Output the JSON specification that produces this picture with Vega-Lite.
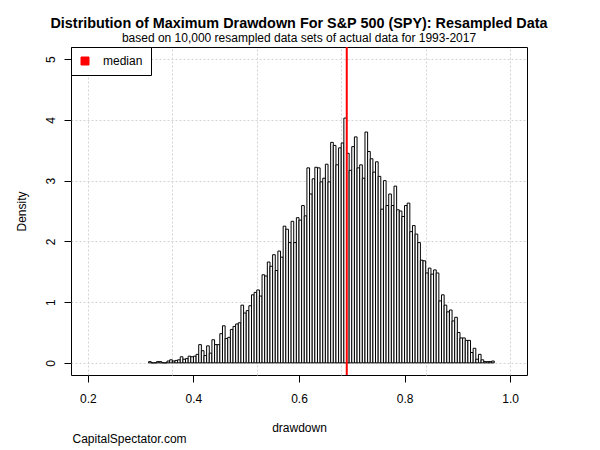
{
  "$schema": "https://vega.github.io/schema/vega-lite/v6.json",
  "width": 456,
  "height": 328,
  "autosize": {"type": "none"},
  "padding": {"left": 71, "top": 47, "right": 73, "bottom": 75},
  "background": "white",
  "title": {
    "text": "Distribution of Maximum Drawdown For S&P 500 (SPY): Resampled Data",
    "subtitle": "based on 10,000 resampled data sets of actual data for 1993-2017",
    "font": "Liberation Sans",
    "fontSize": 14.4,
    "fontWeight": "bold",
    "color": "black",
    "subtitleFont": "Liberation Sans",
    "subtitleFontSize": 12,
    "subtitleColor": "black",
    "anchor": "middle",
    "frame": "group",
    "offset": 1,
    "subtitlePadding": 2
  },
  "config": {
    "view": {"stroke": "black", "strokeWidth": 1},
    "font": "Liberation Sans",
    "axis": {
      "domain": false,
      "tickColor": "black",
      "tickWidth": 1,
      "labelColor": "black",
      "labelFont": "Liberation Sans",
      "labelFontSize": 12,
      "titleFont": "Liberation Sans",
      "titleFontSize": 12,
      "titleFontWeight": "normal",
      "titleColor": "black",
      "gridColor": "#D3D3D3",
      "gridDash": [2, 2],
      "gridWidth": 1,
      "gridOpacity": 1
    }
  },
  "resolve": {"axis": {"x": "independent"}},
  "layer": [
    {
      "data": {
        "values": [
          {"lo": 0.315, "hi": 0.32, "density": 0.02},
          {"lo": 0.32, "hi": 0.325, "density": 0},
          {"lo": 0.325, "hi": 0.33, "density": 0},
          {"lo": 0.33, "hi": 0.335, "density": 0.02},
          {"lo": 0.335, "hi": 0.34, "density": 0.02},
          {"lo": 0.34, "hi": 0.345, "density": 0},
          {"lo": 0.345, "hi": 0.35, "density": 0},
          {"lo": 0.35, "hi": 0.355, "density": 0.03},
          {"lo": 0.355, "hi": 0.36, "density": 0.05},
          {"lo": 0.36, "hi": 0.365, "density": 0.03},
          {"lo": 0.365, "hi": 0.37, "density": 0.04},
          {"lo": 0.37, "hi": 0.375, "density": 0.05},
          {"lo": 0.375, "hi": 0.38, "density": 0.10},
          {"lo": 0.38, "hi": 0.385, "density": 0.06},
          {"lo": 0.385, "hi": 0.39, "density": 0.07},
          {"lo": 0.39, "hi": 0.395, "density": 0.11},
          {"lo": 0.395, "hi": 0.40, "density": 0.10},
          {"lo": 0.40, "hi": 0.405, "density": 0.11},
          {"lo": 0.405, "hi": 0.41, "density": 0.14},
          {"lo": 0.41, "hi": 0.415, "density": 0.30},
          {"lo": 0.415, "hi": 0.42, "density": 0.20},
          {"lo": 0.42, "hi": 0.425, "density": 0.12},
          {"lo": 0.425, "hi": 0.43, "density": 0.28},
          {"lo": 0.43, "hi": 0.435, "density": 0.16},
          {"lo": 0.435, "hi": 0.44, "density": 0.38},
          {"lo": 0.44, "hi": 0.445, "density": 0.30},
          {"lo": 0.445, "hi": 0.45, "density": 0.30},
          {"lo": 0.45, "hi": 0.455, "density": 0.48},
          {"lo": 0.455, "hi": 0.46, "density": 0.61},
          {"lo": 0.46, "hi": 0.465, "density": 0.40},
          {"lo": 0.465, "hi": 0.47, "density": 0.42},
          {"lo": 0.47, "hi": 0.475, "density": 0.55},
          {"lo": 0.475, "hi": 0.48, "density": 0.60},
          {"lo": 0.48, "hi": 0.485, "density": 0.64},
          {"lo": 0.485, "hi": 0.49, "density": 0.66},
          {"lo": 0.49, "hi": 0.495, "density": 0.95},
          {"lo": 0.495, "hi": 0.50, "density": 0.82},
          {"lo": 0.50, "hi": 0.505, "density": 0.86},
          {"lo": 0.505, "hi": 0.51, "density": 0.94},
          {"lo": 0.51, "hi": 0.515, "density": 1.12},
          {"lo": 0.515, "hi": 0.52, "density": 1.16},
          {"lo": 0.52, "hi": 0.525, "density": 1.20},
          {"lo": 0.525, "hi": 0.53, "density": 1.10},
          {"lo": 0.53, "hi": 0.535, "density": 1.45},
          {"lo": 0.535, "hi": 0.54, "density": 1.43},
          {"lo": 0.54, "hi": 0.545, "density": 1.66},
          {"lo": 0.545, "hi": 0.55, "density": 1.59},
          {"lo": 0.55, "hi": 0.555, "density": 1.78},
          {"lo": 0.555, "hi": 0.56, "density": 1.52},
          {"lo": 0.56, "hi": 0.565, "density": 1.84},
          {"lo": 0.565, "hi": 0.57, "density": 1.74},
          {"lo": 0.57, "hi": 0.575, "density": 2.25},
          {"lo": 0.575, "hi": 0.58, "density": 2.20},
          {"lo": 0.58, "hi": 0.585, "density": 1.98},
          {"lo": 0.585, "hi": 0.59, "density": 2.33},
          {"lo": 0.59, "hi": 0.595, "density": 1.98},
          {"lo": 0.595, "hi": 0.60, "density": 2.39},
          {"lo": 0.60, "hi": 0.605, "density": 2.35},
          {"lo": 0.605, "hi": 0.61, "density": 2.59},
          {"lo": 0.61, "hi": 0.615, "density": 2.42},
          {"lo": 0.615, "hi": 0.62, "density": 3.21},
          {"lo": 0.62, "hi": 0.625, "density": 2.78},
          {"lo": 0.625, "hi": 0.63, "density": 3.03},
          {"lo": 0.63, "hi": 0.635, "density": 3.22},
          {"lo": 0.635, "hi": 0.64, "density": 3.21},
          {"lo": 0.64, "hi": 0.645, "density": 2.98},
          {"lo": 0.645, "hi": 0.65, "density": 3.04},
          {"lo": 0.65, "hi": 0.655, "density": 3.27},
          {"lo": 0.655, "hi": 0.66, "density": 2.98},
          {"lo": 0.66, "hi": 0.665, "density": 3.63},
          {"lo": 0.665, "hi": 0.67, "density": 3.58},
          {"lo": 0.67, "hi": 0.675, "density": 3.26},
          {"lo": 0.675, "hi": 0.68, "density": 3.54},
          {"lo": 0.68, "hi": 0.685, "density": 3.62},
          {"lo": 0.685, "hi": 0.69, "density": 4.03},
          {"lo": 0.69, "hi": 0.695, "density": 3.45},
          {"lo": 0.695, "hi": 0.70, "density": 3.17},
          {"lo": 0.70, "hi": 0.705, "density": 3.56},
          {"lo": 0.705, "hi": 0.71, "density": 3.72},
          {"lo": 0.71, "hi": 0.715, "density": 3.21},
          {"lo": 0.715, "hi": 0.72, "density": 3.26},
          {"lo": 0.72, "hi": 0.725, "density": 3.04},
          {"lo": 0.725, "hi": 0.73, "density": 3.80},
          {"lo": 0.73, "hi": 0.735, "density": 3.48},
          {"lo": 0.735, "hi": 0.74, "density": 3.36},
          {"lo": 0.74, "hi": 0.745, "density": 3.14},
          {"lo": 0.745, "hi": 0.75, "density": 3.31},
          {"lo": 0.75, "hi": 0.755, "density": 3.07},
          {"lo": 0.755, "hi": 0.76, "density": 2.53},
          {"lo": 0.76, "hi": 0.765, "density": 3.00},
          {"lo": 0.765, "hi": 0.77, "density": 2.59},
          {"lo": 0.77, "hi": 0.775, "density": 2.78},
          {"lo": 0.775, "hi": 0.78, "density": 2.59},
          {"lo": 0.78, "hi": 0.785, "density": 2.91},
          {"lo": 0.785, "hi": 0.79, "density": 2.52},
          {"lo": 0.79, "hi": 0.795, "density": 2.50},
          {"lo": 0.795, "hi": 0.80, "density": 2.41},
          {"lo": 0.80, "hi": 0.805, "density": 2.59},
          {"lo": 0.805, "hi": 0.81, "density": 2.63},
          {"lo": 0.81, "hi": 0.815, "density": 2.16},
          {"lo": 0.815, "hi": 0.82, "density": 2.26},
          {"lo": 0.82, "hi": 0.825, "density": 2.12},
          {"lo": 0.825, "hi": 0.83, "density": 1.98},
          {"lo": 0.83, "hi": 0.835, "density": 1.69},
          {"lo": 0.835, "hi": 0.84, "density": 1.68},
          {"lo": 0.84, "hi": 0.845, "density": 1.48},
          {"lo": 0.845, "hi": 0.85, "density": 1.56},
          {"lo": 0.85, "hi": 0.855, "density": 1.46},
          {"lo": 0.855, "hi": 0.86, "density": 1.53},
          {"lo": 0.86, "hi": 0.865, "density": 1.48},
          {"lo": 0.865, "hi": 0.87, "density": 1.02},
          {"lo": 0.87, "hi": 0.875, "density": 1.12},
          {"lo": 0.875, "hi": 0.88, "density": 0.95},
          {"lo": 0.88, "hi": 0.885, "density": 0.84},
          {"lo": 0.885, "hi": 0.89, "density": 0.87},
          {"lo": 0.89, "hi": 0.895, "density": 0.69},
          {"lo": 0.895, "hi": 0.90, "density": 0.75},
          {"lo": 0.90, "hi": 0.905, "density": 0.50},
          {"lo": 0.905, "hi": 0.91, "density": 0.41},
          {"lo": 0.91, "hi": 0.915, "density": 0.41},
          {"lo": 0.915, "hi": 0.92, "density": 0.37},
          {"lo": 0.92, "hi": 0.925, "density": 0.37},
          {"lo": 0.925, "hi": 0.93, "density": 0.17},
          {"lo": 0.93, "hi": 0.935, "density": 0.24},
          {"lo": 0.935, "hi": 0.94, "density": 0.06},
          {"lo": 0.94, "hi": 0.945, "density": 0.14},
          {"lo": 0.945, "hi": 0.95, "density": 0.05},
          {"lo": 0.95, "hi": 0.955, "density": 0.02},
          {"lo": 0.955, "hi": 0.96, "density": 0.02},
          {"lo": 0.96, "hi": 0.965, "density": 0.02},
          {"lo": 0.965, "hi": 0.97, "density": 0.03}
        ]
      },
      "mark": {"type": "bar", "fill": "white", "stroke": "black", "strokeWidth": 1},
      "encoding": {
        "x": {
          "field": "lo",
          "type": "quantitative",
          "scale": {"domain": [0.168, 1.032], "nice": false, "zero": false},
          "axis": {
            "orient": "bottom",
            "values": [0.2, 0.4, 0.6, 0.8, 1.0],
            "format": ".1f",
            "grid": false,
            "tickSize": 7,
            "labelPadding": 11,
            "labelBaseline": "top",
            "labelFlush": false,
            "labelOverlap": false,
            "title": "drawdown",
            "titleX": 228,
            "titleY": 56,
            "titleAlign": "center",
            "titleBaseline": "alphabetic"
          }
        },
        "x2": {"field": "hi"},
        "y": {
          "field": "density",
          "type": "quantitative",
          "scale": {"domain": [-0.2, 5.2], "nice": false, "zero": false},
          "axis": {
            "values": [0, 1, 2, 3, 4, 5],
            "format": "d",
            "grid": true,
            "tickSize": 7,
            "labelAngle": 270,
            "labelAlign": "center",
            "labelBaseline": "alphabetic",
            "labelPadding": 10,
            "labelOverlap": false,
            "labelFlush": false,
            "title": "Density",
            "titleX": -46,
            "titleY": 164,
            "titleAngle": 270,
            "titleAlign": "center",
            "titleBaseline": "alphabetic"
          }
        },
        "y2": {"datum": 0}
      }
    },
    {
      "data": {"values": [{"median": 0.6905}]},
      "mark": {"type": "rule", "strokeWidth": 2},
      "encoding": {
        "x": {
          "field": "median",
          "type": "quantitative",
          "axis": {
            "orient": "bottom",
            "values": [0.2, 0.36, 0.52, 0.68, 0.84, 1.0],
            "grid": true,
            "labels": false,
            "ticks": false,
            "domain": false,
            "title": "CapitalSpectator.com",
            "titleX": 1,
            "titleY": 67,
            "titleAlign": "left",
            "titleBaseline": "alphabetic"
          }
        },
        "color": {
          "datum": "median",
          "type": "nominal",
          "scale": {"range": ["red"]},
          "legend": {
            "title": null,
            "orient": "top-left",
            "offset": 0,
            "padding": 8,
            "fillColor": "white",
            "strokeColor": "black",
            "cornerRadius": 0,
            "labelFont": "Liberation Sans",
            "labelFontSize": 12,
            "labelColor": "black",
            "labelOffset": 12,
            "symbolType": "square",
            "symbolSize": 64,
            "symbolFillColor": "red",
            "symbolStrokeColor": "black",
            "symbolStrokeWidth": 1,
            "symbolOpacity": 1,
            "encode": {
              "symbols": {
                "update": {
                  "fill": {"value": "red"},
                  "stroke": {"value": "black"},
                  "strokeWidth": {"value": 1},
                  "shape": {"value": "square"},
                  "size": {"value": 64},
                  "opacity": {"value": 1}
                }
              }
            }
          }
        }
      }
    }
  ]
}
